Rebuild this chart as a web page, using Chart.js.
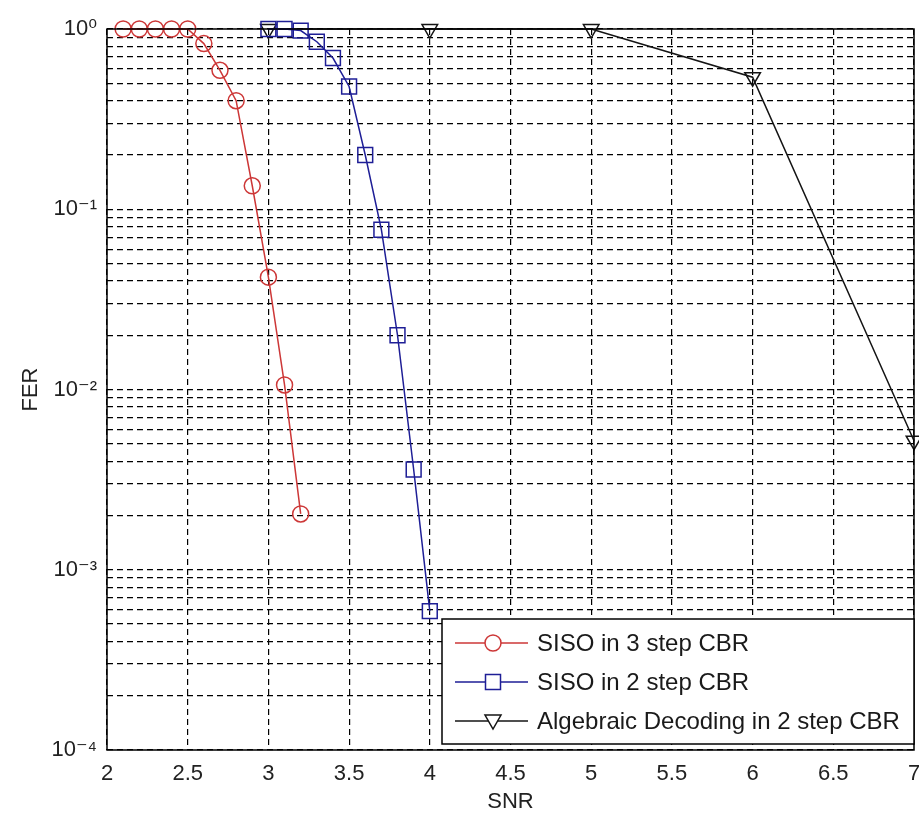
<!DOCTYPE html>
<html>
<head>
<meta charset="utf-8">
<script src="https://cdn.jsdelivr.net/npm/chart.js@4/dist/chart.umd.min.js"></script>
<style>
  html, body { margin: 0; padding: 0; background: #fff; }
  #wrap { width: 919px; height: 819px; position: relative; }
</style>
</head>
<body>
<div id="wrap"><canvas id="Chart"></canvas></div>
<script>
// SNR values (x) and FER values (y)
const snr3step = [2.1, 2.2, 2.3, 2.4, 2.5, 2.6, 2.7, 2.8, 2.9, 3.0, 3.1, 3.2];
const fer3step = [1, 1, 1, 1, 1, 0.83, 0.59, 0.40, 0.135, 0.042, 0.0106, 0.00204];

const snr2step = [3.0, 3.1, 3.2, 3.3, 3.4, 3.5, 3.6, 3.7, 3.8, 3.9, 4.0];
const fer2step = [1, 1, 0.98, 0.85, 0.69, 0.48, 0.2, 0.077, 0.02, 0.0036, 0.00059];

const snrAlg = [3, 4, 5, 6, 7];
const ferAlg = [1, 1, 1, 0.54, 0.0052];

const seriesNames = ['SISO in 3 step CBR', 'SISO in 2 step CBR', 'Algebraic Decoding in 2 step CBR'];

const xTicks = [2, 2.5, 3, 3.5, 4, 4.5, 5, 5.5, 6, 6.5, 7];
const xTickLabels = ['2', '2.5', '3', '3.5', '4', '4.5', '5', '5.5', '6', '6.5', '7'];
const yDecades = [-4, -3, -2, -1, 0];
const yTickLabels = ['10⁻⁴', '10⁻³', '10⁻²', '10⁻¹', '10⁰'];

const FONT = "'Liberation Sans', Arial, 'DejaVu Sans', sans-serif";
const RED = 'rgb(205, 55, 55)';
const BLUE = 'rgb(30, 30, 150)';
const BLACK = 'rgb(20, 20, 20)';

// minor + major log ticks: 1..9 x 10^e
let yTicks = [];
yDecades.forEach((e, i) => {
  if (i == yDecades.length - 1) {
    yTicks.push(Math.pow(10, e));
    return;
  }
  for (let m = 1; m <= 9; m++) {
    yTicks.push(+(m * Math.pow(10, e)).toPrecision(6));
  }
});

const toPoints = (xs, ys) => xs.map((x, i) => ({ x: x, y: ys[i] }));

const frame = {
  id: 'frame',
  afterDatasetsDraw(chart) {
    const { ctx, chartArea } = chart;
    ctx.save();
    ctx.strokeStyle = '#000';
    ctx.lineWidth = 1.5;
    ctx.strokeRect(chartArea.left, chartArea.top, chartArea.right - chartArea.left, chartArea.bottom - chartArea.top);

    // legend box in lower right corner
    const w = 472, h = 125;
    const left = chartArea.right - w;
    const top = chartArea.bottom - h - 6;
    ctx.fillStyle = '#fff';
    ctx.fillRect(left, top, w, h);
    ctx.strokeRect(left, top, w, h);

    const styles = [
      { color: RED, shape: 'circle' },
      { color: BLUE, shape: 'square' },
      { color: BLACK, shape: 'triangle' }
    ];
    ctx.font = '24px ' + FONT;
    ctx.textBaseline = 'middle';
    styles.forEach((s, i) => {
      const y = top + 24 + i * 39;
      const mx = left + 51;
      ctx.strokeStyle = s.color;
      ctx.lineWidth = 1.5;
      ctx.beginPath();
      ctx.moveTo(left + 13, y);
      ctx.lineTo(left + 86, y);
      ctx.stroke();
      ctx.beginPath();
      if (s.shape == 'circle') {
        ctx.arc(mx, y, 8, 0, Math.PI * 2);
      } else if (s.shape == 'square') {
        ctx.rect(mx - 7.5, y - 7.5, 15, 15);
      } else {
        ctx.moveTo(mx - 8, y - 6);
        ctx.lineTo(mx + 8, y - 6);
        ctx.lineTo(mx, y + 8);
        ctx.closePath();
      }
      ctx.fillStyle = '#fff';
      ctx.fill();
      ctx.stroke();
      ctx.fillStyle = '#1a1a1a';
      ctx.fillText(seriesNames[i], left + 95, y + 1);
    });
    ctx.restore();
  }
};

const ctx = document.getElementById('Chart');
new Chart(ctx, {
  type: 'scatter',
  data: {
    datasets: [
      {
        label: seriesNames[0],
        data: toPoints(snr3step, fer3step),
        showLine: true,
        borderColor: RED,
        backgroundColor: 'rgba(0,0,0,0)',
        borderWidth: 1.5,
        pointStyle: 'circle',
        pointRadius: 8,
        pointBorderWidth: 1.5,
        clip: false
      },
      {
        label: seriesNames[1],
        data: toPoints(snr2step, fer2step),
        showLine: true,
        borderColor: BLUE,
        backgroundColor: 'rgba(0,0,0,0)',
        borderWidth: 1.5,
        pointStyle: 'rect',
        pointRadius: 10.5,
        pointBorderWidth: 1.5,
        clip: false
      },
      {
        label: seriesNames[2],
        data: toPoints(snrAlg, ferAlg),
        showLine: true,
        borderColor: BLACK,
        backgroundColor: 'rgba(0,0,0,0)',
        borderWidth: 1.5,
        pointStyle: 'triangle',
        pointRotation: 180,
        pointRadius: 9,
        pointBorderWidth: 1.5,
        clip: false
      }
    ]
  },
  options: {
    responsive: true,
    maintainAspectRatio: false,
    animation: false,
    events: [],
    layout: { autoPadding: false, padding: { left: 14, right: 5, top: 29, bottom: 0 } },
    plugins: {
      legend: { display: false },
      tooltip: { enabled: false }
    },
    scales: {
      x: {
        type: 'linear',
        min: 2,
        max: 7,
        afterBuildTicks: (scale) => { scale.ticks = xTicks.map(v => ({ value: v })); },
        afterFit: (scale) => {
          scale.height = 69;
          scale.paddingRight = 0;
          scale.paddingLeft = 0;
        },
        grid: { color: '#000', lineWidth: 1.2, drawTicks: false },
        border: { display: false, dash: [6, 4] },
        ticks: {
          autoSkip: false,
          maxRotation: 0,
          padding: 11,
          color: '#222',
          font: { family: FONT, size: 22 },
          callback: (value) => xTickLabels[xTicks.indexOf(value)]
        },
        title: {
          display: true,
          text: 'SNR',
          color: '#222',
          padding: { top: 0, bottom: 4 },
          font: { family: FONT, size: 22 }
        }
      },
      y: {
        type: 'logarithmic',
        min: 1e-4,
        max: 1,
        afterBuildTicks: (scale) => { scale.ticks = yTicks.map(v => ({ value: v })); },
        afterFit: (scale) => { scale.width = 93; },
        grid: { color: '#000', lineWidth: 1.2, drawTicks: false },
        border: { display: false, dash: [6, 4] },
        ticks: {
          autoSkip: false,
          padding: 10,
          color: '#222',
          font: { family: FONT, size: 22 },
          callback: (value) => {
            const e = Math.log10(value);
            if (Math.abs(e - Math.round(e)) < 1e-6) {
              return yTickLabels[yDecades.indexOf(Math.round(e))];
            }
            return '';
          }
        },
        title: {
          display: true,
          text: 'FER',
          color: '#222',
          padding: { top: 4, bottom: 4 },
          font: { family: FONT, size: 22 }
        }
      }
    }
  },
  plugins: [frame]
});
</script>
</body>
</html>
